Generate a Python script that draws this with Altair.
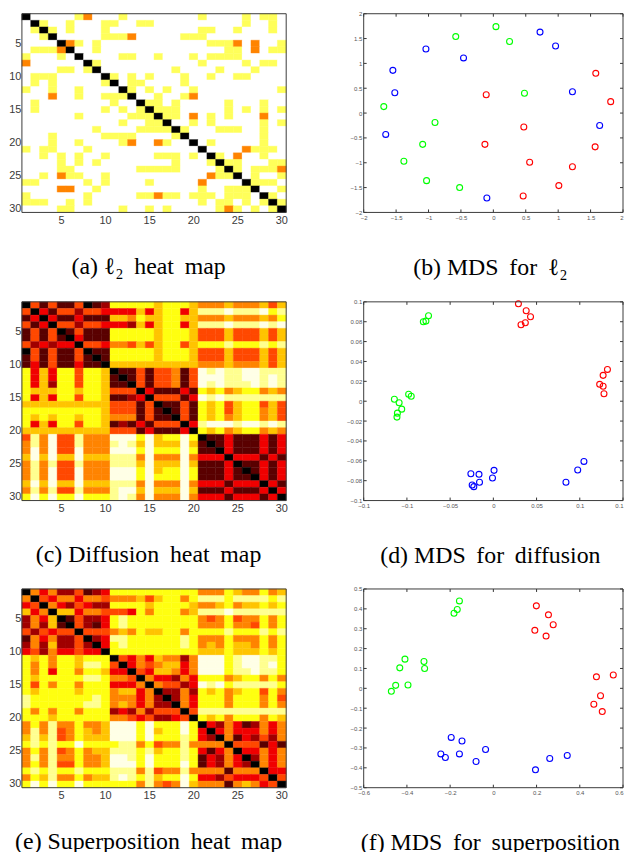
import altair as alt
import pandas as pd

HOT = ["#000000", "#5a0000", "#a00000", "#f00000", "#ff4800", "#ff8400", "#ffc400", "#ffff10", "#ffff90", "#ffffe6"]
L2_COLORS = ["#ffffff", "#ffff5a", "#ff8400", "#000000"]

L2_YELLOW = [
    [7, 12, 21, 26, 28, 29],
    [3, 6, 10, 11, 14, 15, 26, 29],
    [2, 4, 6, 10, 21, 22, 25, 29],
    [3, 10, 11, 12, 19, 20, 21],
    [7, 9, 22, 23, 24, 30],
    [2, 3, 4, 9, 24, 25, 29, 30],
    [1, 5, 12, 13, 16, 20, 22, 23, 24, 25],
    [9, 21, 26, 28, 29],
    [5, 6, 8, 18, 23, 27],
    [2, 3, 4, 11, 13, 15, 19, 22, 25, 26],
    [2, 4, 10, 13, 14, 19],
    [1, 4, 7, 13, 15, 17, 20, 30],
    [7, 10, 11, 12, 16, 19],
    [2, 11, 15, 16, 18, 24, 28],
    [2, 10, 12, 14, 16, 17, 18, 24, 26, 28, 30],
    [7, 13, 14, 15, 17, 18, 22, 24],
    [12, 15, 16, 20, 22, 28, 30],
    [9, 14, 15, 16, 17, 19, 23, 24, 25, 28],
    [4, 10, 11, 12, 13, 18, 28],
    [4, 7, 12, 17, 22, 28],
    [1, 3, 4, 8, 27, 28, 29],
    [3, 5, 7, 10, 16, 17, 18, 20, 23, 28],
    [5, 7, 9, 18, 22, 24, 25, 29, 30],
    [5, 6, 14, 15, 16, 17, 18, 23, 25, 27, 28, 29],
    [3, 6, 7, 10, 23, 24, 27, 30],
    [1, 2, 8, 10, 15, 27, 28, 29],
    [9, 21, 24, 25, 26, 30],
    [1, 8, 14, 15, 17, 18, 20, 21, 22, 24, 25, 26, 29],
    [1, 2, 3, 6, 8, 21, 23, 24, 26, 28, 30],
    [5, 6, 12, 15, 17, 23, 25, 27, 29],
]
L2_ORANGE = [
    [8], [], [], [13], [6, 25, 27], [5, 27], [], [1], [], [],
    [], [], [4, 20], [], [], [20, 28], [], [], [], [13, 16],
    [26], [25], [], [30], [5, 22], [21], [5, 6], [16], [], [24],
]

DIFF_ROWS = [
    "0 4 1 4 1 1 4 0 1 2  7 7 7 7 7 6 7 7 7 6  5 5 5 6 5 5 5 6 4 6",
    "4 0 3 1 4 4 2 4 4 3  3 3 3 6 3 6 7 7 3 6  8 8 8 9 8 8 8 9 7 8",
    "1 3 0 3 1 1 3 1 1 1  6 6 5 7 6 6 7 7 6 6  5 5 5 6 5 5 5 6 5 7",
    "4 1 3 0 4 4 2 4 4 3  3 3 2 6 3 6 7 7 3 6  8 8 8 9 8 8 8 9 8 9",
    "1 4 1 4 0 1 4 1 1 1  7 7 7 7 7 6 7 7 7 6  4 4 4 6 4 4 4 6 4 6",
    "1 4 1 4 1 0 3 1 1 1  7 7 7 7 7 6 7 7 7 6  4 4 4 6 4 4 4 6 4 6",
    "4 2 3 2 3 3 0 4 4 3  5 5 4 6 4 6 7 7 4 6  7 7 7 8 7 7 7 8 7 8",
    "0 4 1 4 1 1 4 0 1 1  7 7 7 7 7 6 7 7 7 6  4 4 4 6 4 4 4 6 4 6",
    "1 4 1 4 1 1 4 1 0 1  7 7 7 7 7 6 7 7 7 6  4 4 4 6 4 4 4 6 4 6",
    "1 3 1 4 1 1 3 1 1 0  6 6 6 6 6 6 6 6 6 6  5 5 5 6 5 5 5 6 4 6",
    "7 3 6 3 7 7 4 7 7 6  0 1 1 4 1 4 4 5 1 4  9 8 9 8 8 9 9 8 8 8",
    "7 3 6 3 7 7 4 7 7 6  1 0 1 4 1 4 4 5 1 4  9 9 9 8 8 9 9 8 9 8",
    "7 3 6 2 7 7 4 7 7 6  1 1 0 4 1 4 4 5 1 4  9 8 9 8 8 8 9 8 9 8",
    "7 6 6 6 7 7 6 7 7 6  4 4 4 0 3 1 1 1 3 1  7 6 7 5 6 7 7 5 6 5",
    "7 3 6 3 7 7 4 7 7 6  1 1 2 3 0 4 4 4 1 3  9 8 9 8 8 8 8 8 8 8",
    "6 6 6 6 6 6 6 6 6 6  4 4 4 1 4 0 1 1 4 1  7 6 7 4 6 7 7 4 6 4",
    "7 7 7 7 7 7 7 7 7 6  4 4 4 1 4 1 0 1 4 1  7 6 7 4 6 7 7 5 6 4",
    "7 6 7 6 7 7 6 7 7 6  5 5 5 1 4 1 1 0 4 1  7 6 7 5 6 7 7 5 6 4",
    "7 3 6 3 7 7 4 7 7 6  1 2 1 3 1 4 4 4 0 3  8 9 9 9 8 9 9 8 9 8",
    "6 6 6 6 6 6 6 6 6 6  4 4 4 1 3 1 1 1 3 0  7 6 7 5 6 7 7 5 6 5",
    "4 8 5 9 4 4 8 5 5 5  9 9 9 7 9 6 7 7 9 7  0 1 1 3 1 1 1 3 1 3",
    "5 8 5 9 4 4 8 5 5 5  8 9 8 6 9 6 6 6 9 6  1 0 1 3 1 1 1 3 1 3",
    "5 9 5 9 4 4 9 5 5 5  9 9 9 7 9 7 7 7 9 7  1 1 0 3 1 1 1 3 1 3",
    "6 9 6 9 6 6 9 6 6 6  8 8 8 5 9 5 5 5 9 5  3 3 3 0 3 3 3 1 3 1",
    "5 8 5 8 4 4 8 5 5 5  8 8 8 6 9 6 6 6 9 6  1 1 1 3 0 1 1 3 1 3",
    "5 8 5 9 4 4 9 5 5 5  9 9 9 7 9 6 7 7 9 7  1 1 1 3 1 0 1 3 1 3",
    "5 8 5 9 4 4 9 5 5 5  9 9 9 7 9 7 7 7 9 7  1 1 1 3 1 1 0 3 1 3",
    "6 9 6 9 6 6 9 6 6 6  8 8 8 5 9 5 5 5 9 5  3 3 3 1 3 3 3 0 3 1",
    "5 8 5 8 4 4 8 5 5 5  8 9 9 6 9 6 6 6 9 6  1 1 1 3 1 1 1 3 0 3",
    "7 9 7 9 7 7 9 7 7 7  8 9 8 5 9 5 5 5 9 5  3 3 3 1 3 3 3 1 3 0",
]

SUPER_ROWS = [
    "0 5 3 5 2 2 4 1 2 3  7 7 7 7 7 7 7 7 7 7  5 5 5 7 6 5 5 7 5 6",
    "5 0 4 3 5 5 3 5 5 4  5 5 5 6 4 6 7 7 5 7  8 8 8 7 8 8 8 8 7 8",
    "3 4 0 5 3 2 4 3 2 2  7 7 7 7 6 7 7 7 7 6  5 5 6 7 5 6 6 7 6 7",
    "6 3 5 0 6 6 3 5 5 4  4 4 3 7 5 7 7 7 5 6  8 8 8 9 8 8 8 8 8 8",
    "2 5 3 6 0 1 4 2 2 3  7 8 7 7 7 7 7 7 7 7  5 4 5 7 4 5 5 7 5 7",
    "2 5 2 6 1 0 4 2 1 3  7 8 7 7 7 7 7 7 7 7  5 5 5 7 5 5 4 7 5 7",
    "4 2 4 3 4 4 0 4 4 4  5 6 5 7 6 6 7 7 5 7  7 7 7 8 7 7 7 8 7 8",
    "1 5 3 5 2 2 4 0 2 3  8 8 7 7 7 7 7 7 8 7  5 5 5 7 5 5 5 7 5 7",
    "2 5 2 6 2 2 4 2 0 3  7 8 7 7 7 7 7 7 8 7  5 6 5 7 6 6 5 7 5 7",
    "3 4 2 5 3 3 4 3 3 0  7 7 7 7 7 7 7 7 7 7  6 6 6 7 6 6 6 7 6 7",
    "7 6 7 5 7 7 6 7 7 7  0 4 3 5 3 6 5 5 2 5  9 9 9 7 8 9 9 8 8 7",
    "7 5 7 5 7 7 6 8 8 7  4 0 3 5 4 5 6 6 3 5  9 9 9 7 8 9 9 8 9 7",
    "7 5 7 3 7 7 5 7 7 6  3 3 0 4 3 6 6 5 3 5  9 9 9 7 8 8 9 8 8 7",
    "7 6 7 7 7 7 7 8 8 7  5 5 4 0 5 3 3 2 5 3  7 7 7 5 6 7 7 5 7 5",
    "7 4 7 5 7 7 5 7 7 7  3 3 3 5 0 5 4 4 2 3  9 8 9 7 8 8 8 8 8 7",
    "7 6 7 7 7 7 6 7 7 7  5 6 6 3 5 0 2 2 5 2  7 6 7 5 6 7 7 4 7 5",
    "8 7 7 7 7 7 7 7 8 7  5 5 5 3 5 2 0 2 5 3  7 7 7 5 7 7 7 5 7 4",
    "8 7 7 7 7 7 7 8 8 7  5 6 5 3 5 2 2 0 5 3  7 7 7 5 7 7 7 5 7 5",
    "7 5 7 5 7 7 5 7 7 7  2 3 2 5 2 4 4 4 0 4  8 8 8 8 8 8 8 8 8 8",
    "7 7 7 6 7 7 7 7 7 7  5 5 4 3 4 2 2 3 4 0  7 6 7 5 7 7 7 5 7 6",
    "5 7 5 8 5 5 7 5 5 6  9 9 9 7 9 7 7 7 9 7  0 3 2 5 3 1 2 5 3 5",
    "5 8 5 8 4 5 7 6 5 6  9 9 9 7 9 6 7 7 9 7  3 0 3 5 3 3 3 5 3 5",
    "6 8 6 8 4 5 7 6 6 6  9 9 9 7 9 7 7 7 8 7  3 2 0 5 1 3 2 4 2 5",
    "7 8 7 8 7 7 9 7 7 7  7 8 8 5 7 4 5 5 8 5  5 5 5 0 4 4 4 1 3 1",
    "5 7 5 8 4 5 7 5 6 6  8 8 8 7 8 6 7 7 8 7  3 1 3 5 0 3 3 5 3 5",
    "5 8 5 8 5 5 7 5 5 6  9 9 8 7 9 7 7 7 8 7  1 3 2 5 3 0 2 5 3 5",
    "5 7 5 8 4 4 7 5 5 6  9 9 9 7 9 7 7 7 9 7  1 3 2 5 3 2 0 5 3 5",
    "7 8 7 8 7 7 8 7 7 7  8 8 8 5 8 4 5 5 8 5  5 5 5 1 5 5 5 0 3 3",
    "5 7 6 8 5 5 7 5 6 6  8 9 8 7 8 6 7 7 9 7  3 3 2 4 3 3 3 4 0 4",
    "7 9 7 9 7 7 9 7 7 7  7 7 7 5 8 5 4 5 9 6  5 5 5 1 5 6 5 3 4 0",
]

B_RED_X = [1.58, 1.81, -0.11, 0.47, -0.13, 1.57, 0.56, 1.22, 1.01, 0.46]
B_RED_Y = [0.80, 0.23, 0.37, -0.28, -0.63, -0.68, -0.99, -1.08, -1.46, -1.67]
B_GREEN_X = [0.04, 0.25, -0.58, 0.48, -1.69, -0.90, -1.09, -1.38, -1.03, -0.52]
B_GREEN_Y = [1.74, 1.44, 1.54, 0.40, 0.13, -0.19, -0.63, -0.97, -1.36, -1.50]
B_BLUE_X = [0.72, 0.96, -1.04, -0.46, -1.55, -1.52, 1.22, -1.66, 1.64, -0.10]
B_BLUE_Y = [1.63, 1.35, 1.29, 1.11, 0.86, 0.41, 0.43, -0.43, -0.25, -1.71]

D_RED_X = [0.029, 0.038, 0.043, 0.037, 0.032, 0.132, 0.127, 0.123, 0.127, 0.128]
D_RED_Y = [0.098, 0.091, 0.085, 0.079, 0.077, 0.032, 0.026, 0.017, 0.015, 0.0075]
D_GREEN_X = [-0.075, -0.078, -0.081, -0.098, -0.095, -0.1145, -0.109, -0.106, -0.111, -0.1115]
D_GREEN_Y = [0.086, 0.0806, 0.080, 0.007, 0.005, 0.002, -0.0015, -0.008, -0.012, -0.016]
D_BLUE_X = [-0.026, -0.0166, 0.0008, -0.001, -0.016, -0.0245, -0.0226, 0.084, 0.0976, 0.1048]
D_BLUE_Y = [-0.073, -0.0736, -0.0696, -0.0773, -0.0816, -0.0843, -0.086, -0.0816, -0.0693, -0.0606]

F_RED_X = [0.199, 0.255, 0.277, 0.192, 0.244, 0.555, 0.477, 0.496, 0.465, 0.504]
F_RED_Y = [0.415, 0.37, 0.32, 0.292, 0.263, 0.067, 0.058, -0.037, -0.08, -0.117]
F_GREEN_X = [-0.157, -0.167, -0.182, -0.409, -0.321, -0.318, -0.433, -0.395, -0.452, -0.472]
F_GREEN_Y = [0.44, 0.397, 0.378, 0.147, 0.135, 0.10, 0.103, 0.017, 0.015, -0.015]
F_BLUE_X = [-0.195, -0.145, -0.036, -0.243, -0.157, -0.222, -0.08, 0.342, 0.261, 0.195]
F_BLUE_Y = [-0.247, -0.265, -0.308, -0.33, -0.33, -0.348, -0.368, -0.338, -0.353, -0.41]

B_X_TICKS = [-2, -1.5, -1, -0.5, 0, 0.5, 1, 1.5, 2]
B_Y_TICKS = [-2, -1.5, -1, -0.5, 0, 0.5, 1, 1.5, 2]
D_X_TICKS = [-0.15, -0.1, -0.05, 0, 0.05, 0.1, 0.15]
D_Y_TICKS = [-0.1, -0.08, -0.06, -0.04, -0.02, 0, 0.02, 0.04, 0.06, 0.08, 0.1]
F_X_TICKS = [-0.6, -0.4, -0.2, 0, 0.2, 0.4, 0.6]
F_Y_TICKS = [-0.5, -0.4, -0.3, -0.2, -0.1, 0, 0.1, 0.2, 0.3, 0.4, 0.5]
HEAT_TICKS = [5, 10, 15, 20, 25, 30]

W, H = 266, 200
W2 = 261
SANS = "Liberation Sans"
SERIF = "Liberation Serif"
CAPTION_SIZE = 24
GAP = " \u2009"
FRAME = "#3a3a3a"


def parse(rows):
    out = []
    for row in rows:
        vals = [int(t) for t in row.split()]
        assert len(vals) == 30
        out.append(vals)
    assert len(out) == 30
    return out


def l2_matrix():
    out = []
    for i in range(30):
        vals = [0] * 30
        for c in L2_YELLOW[i]:
            vals[c - 1] = 1
        for c in L2_ORANGE[i]:
            vals[c - 1] = 2
        vals[i] = 3
        out.append(vals)
    return out


def frame(width):
    return (
        alt.Chart(pd.DataFrame({"f": [0]}))
        .mark_rect(fillOpacity=0, stroke=FRAME, strokeWidth=1)
        .encode(x=alt.value(0), x2=alt.value(width), y=alt.value(0), y2=alt.value(H))
    )


def heat(matrix, colors, caption):
    recs = [
        {"r": i + 1, "c": j + 1, "v": v}
        for i, row in enumerate(matrix)
        for j, v in enumerate(row)
    ]
    scale = alt.Scale(domain=list(range(len(colors))), range=colors)
    order = list(range(1, 31))
    cells = (
        alt.Chart(pd.DataFrame(recs))
        .mark_rect(strokeWidth=0.4)
        .encode(
            x=alt.X(
                "c:O", sort=order,
                scale=alt.Scale(paddingInner=0, paddingOuter=0),
                axis=alt.Axis(
                    values=HEAT_TICKS, labelAngle=0, labelFont=SANS, labelFontSize=11,
                    labelColor="#3a3a3a", labelPadding=2, ticks=False, domain=False,
                    title=caption, titleFont=SERIF, titleFontSize=CAPTION_SIZE, titleFontWeight="normal",
                    titleColor="#000000", titlePadding=29, titleX=127,
                ),
            ),
            y=alt.Y(
                "r:O", sort=order,
                scale=alt.Scale(paddingInner=0, paddingOuter=0),
                axis=alt.Axis(
                    values=HEAT_TICKS, labelFont=SANS, labelFontSize=11,
                    labelColor="#3a3a3a", labelPadding=1, ticks=False, domain=False, title=None,
                ),
            ),
            color=alt.Color("v:O", scale=scale, legend=None),
            stroke=alt.Stroke("v:O", scale=scale, legend=None),
        )
    )
    return alt.layer(cells, frame(W)).properties(width=W, height=H)


def scatter(series, x_dom, y_dom, x_ticks, y_ticks, caption):
    recs = []
    for name, xs, ys in series:
        for px, py in zip(xs, ys):
            recs.append({"s": name, "x": px, "y": py})
    xs_scale = alt.Scale(domain=x_dom, nice=False, zero=False)
    ys_scale = alt.Scale(domain=y_dom, nice=False, zero=False)
    end_align = {"condition": {"test": f"datum.value >= {x_dom[1]}", "value": "right"}, "value": "center"}
    points = (
        alt.Chart(pd.DataFrame(recs))
        .mark_point(filled=False, size=36, strokeWidth=1.1, opacity=1)
        .encode(
            x=alt.X(
                "x:Q", scale=xs_scale,
                axis=alt.Axis(
                    values=x_ticks, format="~g", labelFont=SANS, labelFontSize=6, labelColor="#555555",
                    labelPadding=2, labelOverlap=False, labelAlign=end_align,
                    ticks=False, domain=False, grid=False,
                    title=caption, titleFont=SERIF, titleFontSize=CAPTION_SIZE, titleFontWeight="normal",
                    titleColor="#000000", titlePadding=35, titleX=127,
                ),
            ),
            y=alt.Y(
                "y:Q", scale=ys_scale,
                axis=alt.Axis(
                    values=y_ticks, format="~g", labelFont=SANS, labelFontSize=6, labelColor="#555555",
                    labelPadding=2, labelOverlap=False,
                    ticks=False, domain=False, grid=False, title=None,
                ),
            ),
            color=alt.Color(
                "s:N",
                scale=alt.Scale(domain=["red", "green", "blue"], range=["#ff0000", "#00ff00", "#0000ff"]),
                legend=None,
            ),
        )
    )
    x_df = pd.DataFrame({"t": x_ticks})
    y_df = pd.DataFrame({"t": y_ticks})
    tick = dict(color="#333333", strokeWidth=1)
    x_q = alt.X("t:Q", scale=xs_scale, axis=None)
    y_q = alt.Y("t:Q", scale=ys_scale, axis=None)
    layers = [
        points,
        alt.Chart(x_df).mark_rule(**tick).encode(x=x_q, y=alt.value(0), y2=alt.value(3)),
        alt.Chart(x_df).mark_rule(**tick).encode(x=x_q, y=alt.value(H - 3), y2=alt.value(H)),
        alt.Chart(y_df).mark_rule(**tick).encode(y=y_q, x=alt.value(0), x2=alt.value(3)),
        alt.Chart(y_df).mark_rule(**tick).encode(y=y_q, x=alt.value(W2 - 3), x2=alt.value(W2)),
        frame(W2),
    ]
    return alt.layer(*layers).resolve_axis(x="independent", y="independent").properties(width=W2, height=H)


def cap(*words):
    return GAP.join(words)


panels = [
    heat(l2_matrix(), L2_COLORS, cap("(a) \u2113\u2082", "heat", "map")),
    scatter([("red", B_RED_X, B_RED_Y), ("green", B_GREEN_X, B_GREEN_Y), ("blue", B_BLUE_X, B_BLUE_Y)],
            [-2, 2], [-2, 2], B_X_TICKS, B_Y_TICKS, cap("(b) MDS", "for", "\u2113\u2082")),
    heat(parse(DIFF_ROWS), HOT, cap("(c) Diffusion", "heat", "map")),
    scatter([("red", D_RED_X, D_RED_Y), ("green", D_GREEN_X, D_GREEN_Y), ("blue", D_BLUE_X, D_BLUE_Y)],
            [-0.15, 0.15], [-0.1, 0.1], D_X_TICKS, D_Y_TICKS, cap("(d) MDS", "for", "diffusion")),
    heat(parse(SUPER_ROWS), HOT, cap("(e) Superposition", "heat", "map")),
    scatter([("red", F_RED_X, F_RED_Y), ("green", F_GREEN_X, F_GREEN_Y), ("blue", F_BLUE_X, F_BLUE_Y)],
            [-0.6, 0.6], [-0.5, 0.5], F_X_TICKS, F_Y_TICKS, cap("(f) MDS", "for", "superposition")),
]

chart = (
    alt.concat(*panels, columns=2, spacing=alt.RowColnumber(row=19, column=58))
    .resolve_scale(color="independent", stroke="independent")
    .configure_view(stroke=None)
    .properties(padding={"left": 0, "top": 0, "right": 0, "bottom": 0})
)

chart.save("out.html", embed_options={"renderer": "svg", "actions": False})
